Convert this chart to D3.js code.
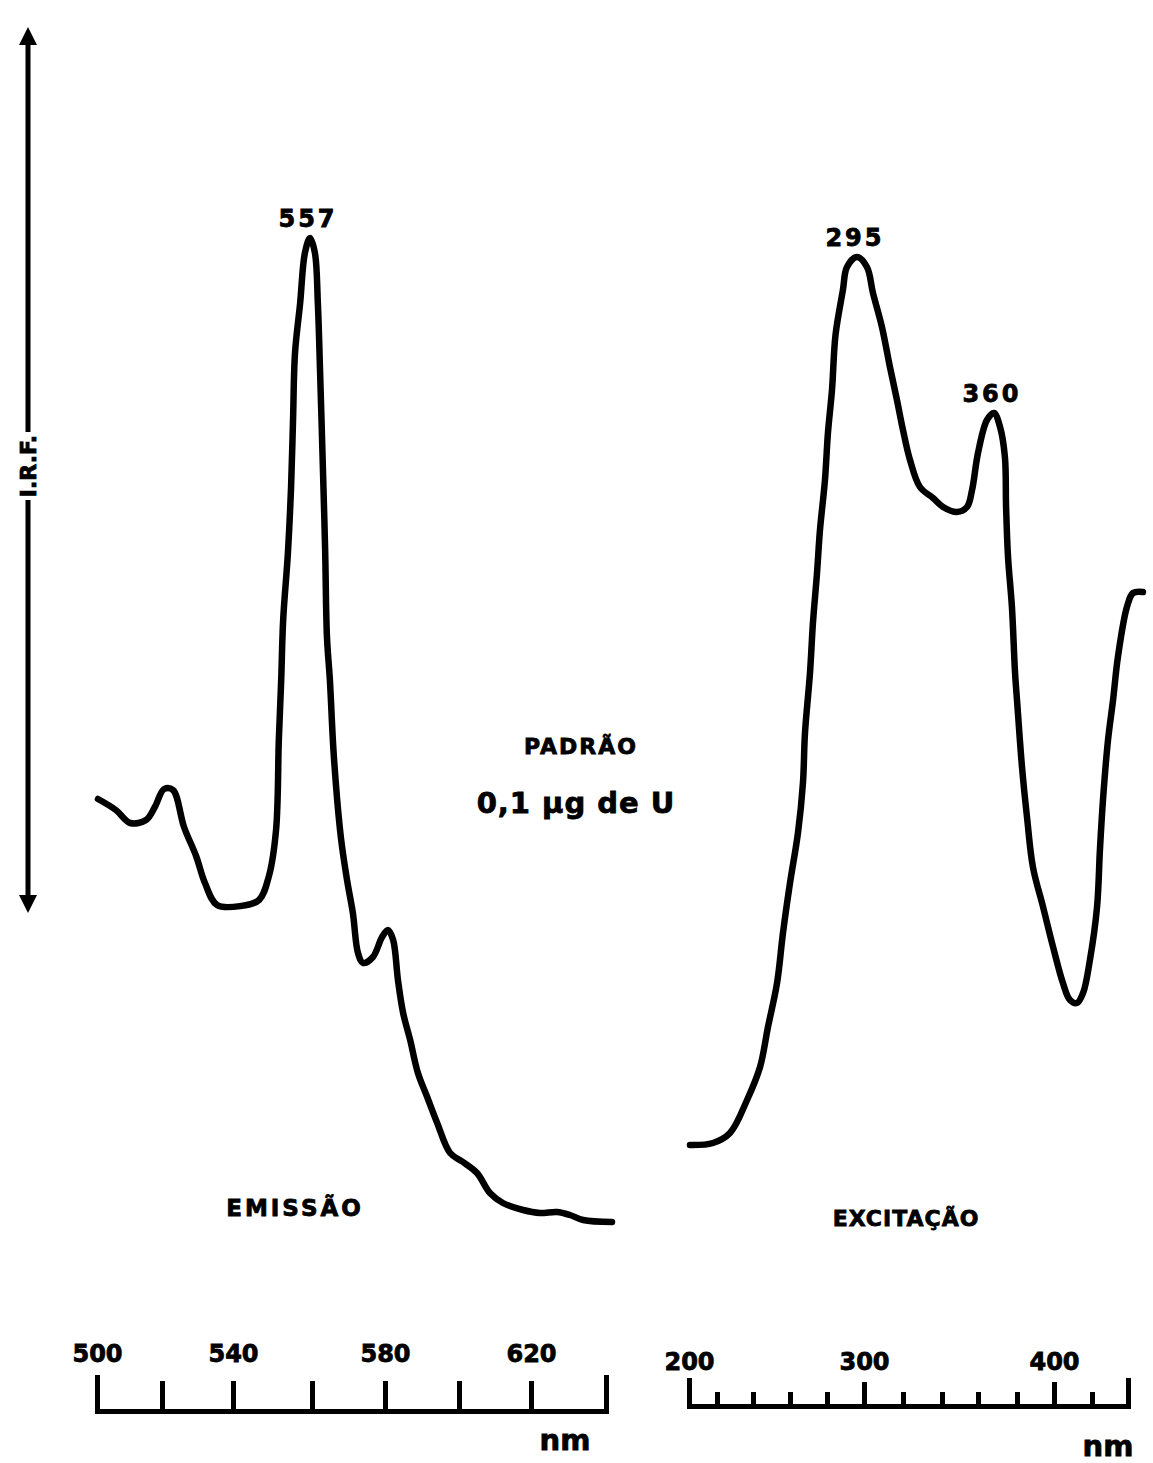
<!DOCTYPE html>
<html>
<head>
<meta charset="utf-8">
<script src="https://cdn.jsdelivr.net/npm/d3@7/dist/d3.min.js"></script>
<style>
  body { margin: 0; background: #fff; }
  text { font-family: "DejaVu Sans", sans-serif; font-weight: bold; fill: #000; stroke: #000; stroke-width: 0.8px; }
</style>
</head>
<body>
<svg id="chart"></svg>
<script>
var width = 1153;
var height = 1463;

// Emission spectrum, wavelength (nm) and relative intensity (I.R.F., arbitrary units)
var emissionNm = [500.3, 505.8, 510.2, 515.1, 517.8, 520.6, 523.1, 526.2, 529.6, 532.1, 535.5, 542.0, 546.6, 549.1,
    550.9, 551.6, 552.2, 552.7, 553.9, 554.7, 555.2, 555.7, 557.0, 558.2, 559.5, 560.8, 561.6, 562.2, 563.0,
    563.6, 564.1, 564.9, 566.0, 567.9, 569.6, 571.2, 572.6, 574.0, 576.7, 579.2, 580.8, 582.2, 583.5, 584.9,
    586.8, 588.9, 591.4, 594.1, 597.6, 601.1, 605.0, 608.6, 612.2, 617.8, 622.4, 626.9, 630.4, 633.9, 641.6];
var emissionIrf = [43.1, 42.0, 40.7, 41.0, 42.3, 44.1, 44.0, 40.3, 37.4, 34.7, 32.5, 32.4, 33.0, 35.4,
    40.0, 49.0, 55.0, 61.0, 67.7, 74.3, 81.0, 87.7, 92.7, 97.7, 99.2, 97.7, 92.7, 86.0, 76.0,
    68.0, 59.3, 55.0, 47.3, 39.3, 35.0, 31.7, 27.7, 26.7, 27.3, 29.3, 30.0, 29.0, 25.0, 21.7,
    19.0, 15.7, 13.3, 10.7, 7.7, 6.8, 5.7, 3.7, 2.7, 2.0, 1.7, 1.8, 1.5, 1.0, 0.8];

// Excitation spectrum
var excitationNm = [200.7, 217.1, 227.2, 236.7, 243.8, 248.1, 253.0, 256.2, 260.0, 264.3, 267.0, 268.1, 270.8, 272.4,
    274.6, 276.2, 278.9, 280.5, 282.7, 284.6, 288.6, 290.8, 296.2, 301.5, 304.6, 309.2, 313.3, 316.9, 320.0,
    323.6, 328.7, 335.4, 340.6, 348.3, 353.9, 356.7, 360.0, 364.6, 368.2, 371.3, 373.8, 374.4, 375.4, 377.4, 379.0,
    380.0, 382.7, 385.4, 388.6, 394.1, 399.5, 404.7, 408.4, 412.1, 415.3, 418.9, 422.8, 424.4, 426.1, 428.9, 431.7,
    434.4, 439.4, 442.8, 448.3];
var excitationIrf = [8.5, 8.7, 9.7, 13.0, 16.3, 20.3, 24.7, 29.7, 34.7, 39.7, 44.7, 49.7, 55.7, 60.7,
    65.7, 70.0, 75.0, 79.7, 84.0, 89.5, 94.0, 96.3, 97.3, 96.3, 93.7, 90.3, 86.3, 83.0, 80.0,
    77.0, 74.3, 73.2, 72.3, 71.8, 72.3, 74.0, 77.7, 81.0, 81.7, 80.3, 77.3, 72.3, 67.3, 62.3, 55.7,
    53.0, 46.3, 41.3, 36.3, 32.3, 28.3, 24.7, 23.0, 22.7, 23.7, 27.0, 32.3, 38.0, 43.0, 49.0, 53.0,
    57.3, 62.3, 63.7, 63.8];

// Axis ticks and labels
var emissionTicks = [500, 520, 540, 560, 580, 600, 620, 640];
var emissionLabels = [500, 540, 580, 620];
var excitationTicks = [200, 220, 240, 260, 280, 300, 320, 340, 360, 380, 400, 420, 440];
var excitationLabels = [200, 300, 400];

// Peak annotations
var emissionPeaks = [{ nm: 559.5, irf: 99.2, label: "557" }];
var excitationPeaks = [{ nm: 296.2, irf: 97.3, label: "295" }, { nm: 368.2, irf: 81.7, label: "360" }];

var svg = d3.select("#chart")
    .attr("width", width)
    .attr("height", height);

// scales (the recorder paper is not perfectly even, so ticks are matched one by one)
var xEm = d3.scaleLinear()
    .domain(emissionTicks)
    .range([97, 162, 233, 312, 385, 459, 531, 606]);
var xEx = d3.scaleLinear()
    .domain(excitationTicks)
    .range([689, 717, 753, 790, 827, 864, 903, 942, 978, 1017, 1054, 1092, 1128]);
var y = d3.scaleLinear()
    .domain([0, 100])
    .range([1230, 230]);

function drawSpectrum(nm, irf, x) {
    var pts = nm.map(function (d, i) { return [d, irf[i]]; });
    var line = d3.line()
        .x(function (d) { return x(d[0]); })
        .y(function (d) { return y(d[1]); })
        .curve(d3.curveCatmullRom.alpha(0.5));
    svg.append("path")
        .datum(pts)
        .attr("d", line)
        .attr("fill", "none")
        .attr("stroke", "#000")
        .attr("stroke-width", 6.5)
        .attr("stroke-linejoin", "round")
        .attr("stroke-linecap", "round");
}

drawSpectrum(emissionNm, emissionIrf, xEm);
drawSpectrum(excitationNm, excitationIrf, xEx);

// peak labels
function drawPeaks(peaks, x, dy) {
    svg.selectAll(null)
        .data(peaks)
        .enter().append("text")
        .attr("x", function (d) { return x(d.nm) - 2; })
        .attr("y", function (d) { return y(d.irf) - dy; })
        .attr("text-anchor", "middle")
        .attr("font-size", 24)
        .attr("letter-spacing", 3)
        .text(function (d) { return d.label; });
}
drawPeaks(emissionPeaks, xEm, 11);
drawPeaks(excitationPeaks, xEx, 11);

// bottom axes, ticks pointing up
var emAxis = svg.append("g")
    .attr("transform", "translate(0,1411)")
    .call(d3.axisTop(xEm)
        .tickValues(emissionTicks)
        .tickSize(30)
        .tickSizeOuter(36)
        .tickPadding(19)
        .tickFormat(function (d) { return emissionLabels.indexOf(d) >= 0 ? d : ""; }));

var exAxis = svg.append("g")
    .attr("transform", "translate(0,1406)")
    .call(d3.axisTop(xEx)
        .tickValues(excitationTicks)
        .tickSize(14)
        .tickSizeOuter(28)
        .tickPadding(10)
        .tickFormat(function (d) { return excitationLabels.indexOf(d) >= 0 ? d : ""; }));

// longer ticks at the labelled values of the excitation scale
exAxis.selectAll(".tick line")
    .attr("y2", function (d) { return excitationLabels.indexOf(d) >= 0 ? -24 : -14; });
exAxis.selectAll(".tick text")
    .attr("y", -36);

[emAxis, exAxis].forEach(function (g) {
    g.select(".domain").attr("stroke", "#000").attr("stroke-width", 5).attr("fill", "none");
    g.selectAll(".tick line").attr("stroke", "#000").attr("stroke-width", 5);
    g.selectAll(".tick text")
        .attr("font-size", 24)
        .attr("font-family", "DejaVu Sans, sans-serif")
        .attr("font-weight", "bold")
        .attr("fill", "#000");
});

// unit labels
svg.append("text").attr("x", 565).attr("y", 1450).attr("text-anchor", "middle")
    .attr("font-size", 29).text("nm");
svg.append("text").attr("x", 1108).attr("y", 1456).attr("text-anchor", "middle")
    .attr("font-size", 29).text("nm");

// spectrum names and sample label
svg.append("text").attr("x", 295).attr("y", 1216).attr("text-anchor", "middle")
    .attr("font-size", 23).attr("letter-spacing", 3).text("EMISSÃO");
svg.append("text").attr("x", 906).attr("y", 1226).attr("text-anchor", "middle")
    .attr("font-size", 22).attr("letter-spacing", 1).text("EXCITAÇÃO");
svg.append("text").attr("x", 581).attr("y", 754).attr("text-anchor", "middle")
    .attr("font-size", 22).attr("letter-spacing", 2).text("PADRÃO");
svg.append("text").attr("x", 576).attr("y", 813).attr("text-anchor", "middle")
    .attr("font-size", 29).attr("letter-spacing", 1).text("0,1 µg de U");

// I.R.F. double arrow on the left
var defs = svg.append("defs");
defs.append("marker")
    .attr("id", "head")
    .attr("viewBox", "0 0 10 10")
    .attr("refX", 5).attr("refY", 5)
    .attr("markerWidth", 3.6).attr("markerHeight", 3.6)
    .attr("orient", "auto-start-reverse")
    .append("path")
    .attr("d", "M0,0 L10,5 L0,10 Z")
    .attr("fill", "#000");

svg.append("line")
    .attr("x1", 28).attr("y1", 432).attr("x2", 28).attr("y2", 36)
    .attr("stroke", "#000").attr("stroke-width", 5)
    .attr("marker-end", "url(#head)");
svg.append("line")
    .attr("x1", 28).attr("y1", 500).attr("x2", 28).attr("y2", 904)
    .attr("stroke", "#000").attr("stroke-width", 5)
    .attr("marker-end", "url(#head)");
svg.append("text")
    .attr("transform", "translate(36,466) rotate(-90)")
    .attr("text-anchor", "middle")
    .attr("font-size", 22)
    .text("I.R.F.");
</script>
</body>
</html>
